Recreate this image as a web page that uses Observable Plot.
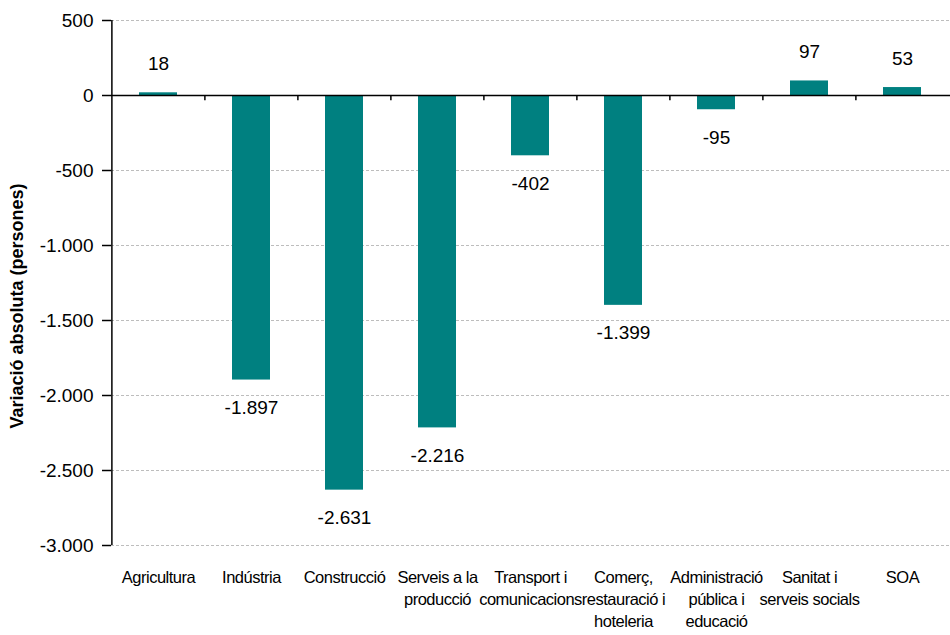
<!DOCTYPE html>
<html>
<head>
<meta charset="utf-8">
<script src="https://cdn.jsdelivr.net/npm/d3@7"></script>
<script src="https://cdn.jsdelivr.net/npm/@observablehq/plot@0.6"></script>
<style>
  html, body { margin: 0; padding: 0; background: #fff; }
  #chart svg { font-family: "Liberation Sans", Arial, sans-serif; }
  g[aria-label="x-axis tick label"] text { letter-spacing: -0.5px; }
</style>
</head>
<body>
<div id="chart"></div>
<script>
const categories = [
  "Agricultura",
  "Indústria",
  "Construcció",
  "Serveis a la\nproducció",
  "Transport i\ncomunicacions",
  "Comerç,\nrestauració i\nhoteleria",
  "Administració\npública i\neducació",
  "Sanitat i\nserveis socials",
  "SOA"
];
const values = [18, -1897, -2631, -2216, -402, -1399, -95, 97, 53];
const yTicks = [500, 0, -500, -1000, -1500, -2000, -2500, -3000];
const yTitle = "Variació absoluta (persones)";

const data = categories.map((c, i) => ({cat: c, value: values[i]}));
const locale = d3.formatLocale({decimal: ",", thousands: ".", grouping: [3], minus: "-"});
const fmt = locale.format(",d");

const W = 950, H = 635;
const mL = 111, mR = 0, mT = 20, mB = 90;
const step = (W - mL - mR) / categories.length;

const chart = Plot.plot({
  width: W,
  height: H,
  marginLeft: mL,
  marginRight: mR,
  marginTop: mT,
  marginBottom: mB,
  style: {fontFamily: "'Liberation Sans', Arial, sans-serif", color: "#000", background: "#fff"},
  x: {domain: categories, paddingInner: 0.59, paddingOuter: 0.295},
  y: {domain: [-3000, 500]},
  marks: [
    Plot.gridY(yTicks.filter(d => d !== 0), {stroke: "#bdbdbd", strokeOpacity: 1, strokeDasharray: "3,2", strokeWidth: 1}),
    Plot.barY(data, {x: "cat", y: "value", fill: "#008080"}),
    Plot.ruleY([0], {stroke: "#000", strokeWidth: 1.5}),
    Plot.ruleX(categories.slice(0, 1), {dx: -step / 2, y1: 500, y2: -3000, stroke: "#000", strokeWidth: 1.5}),
    Plot.ruleX(categories.slice(1), {dx: -step / 2, y1: 0, y2: -35, stroke: "#000", strokeWidth: 1.5}),
    Plot.axisY(yTicks, {tickSize: 9, tickPadding: 9, tickFormat: fmt, fontSize: 19, label: null, stroke: "#000", strokeWidth: 1.5}),
    Plot.axisX({anchor: "bottom", tickSize: 0, tickPadding: 22, fontSize: 16.5, lineHeight: 1.32, label: null}),
    Plot.text(data.filter(d => d.value >= 0), {x: "cat", y: "value", text: d => fmt(d.value), dy: -29, fontSize: 19, fill: "#000"}),
    Plot.text(data.filter(d => d.value < 0), {x: "cat", y: "value", text: d => fmt(d.value), dy: 28, fontSize: 19, fill: "#000"}),
    Plot.text([yTitle], {frameAnchor: "left", textAnchor: "middle", rotate: -90, dx: -94, dy: 23, fontSize: 18, fontWeight: "bold", fill: "#000"})
  ]
});
document.getElementById("chart").appendChild(chart);
</script>
</body>
</html>
